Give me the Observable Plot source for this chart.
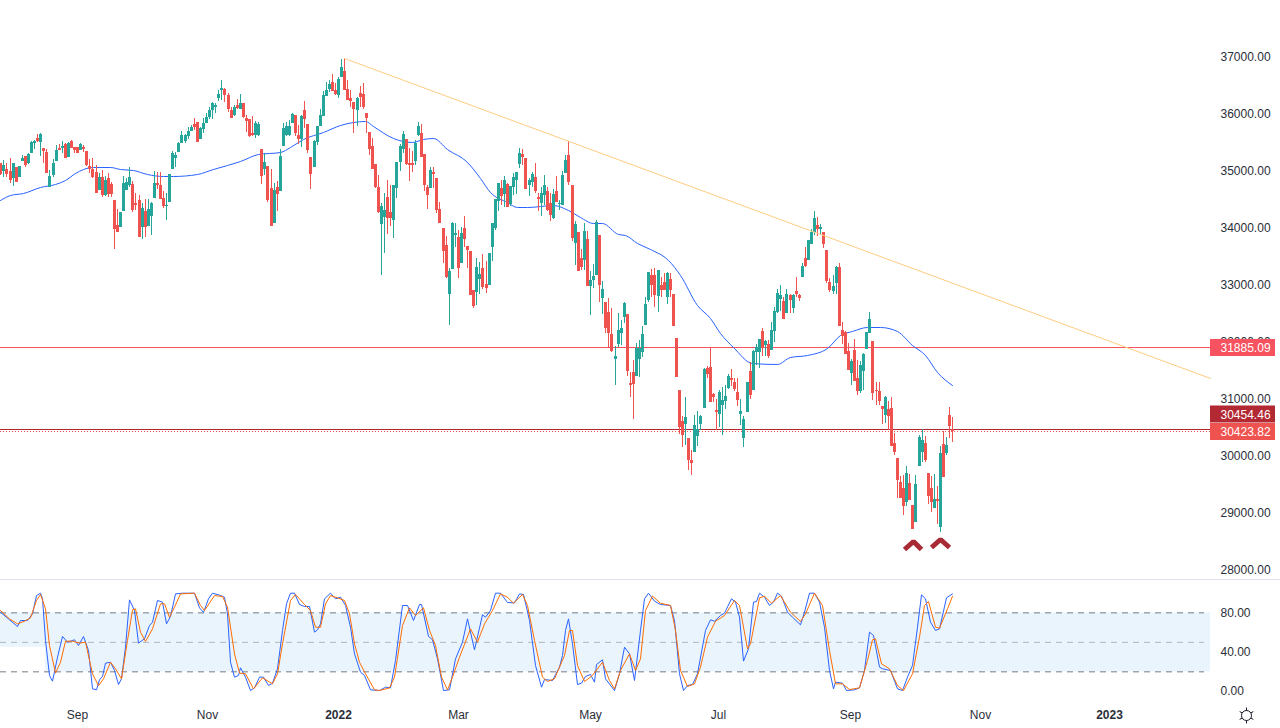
<!DOCTYPE html>
<html>
<head>
<meta charset="utf-8">
<script src="https://cdn.jsdelivr.net/npm/d3@7"></script>
<script src="https://cdn.jsdelivr.net/npm/@observablehq/plot@0.6"></script>
<style>
html,body{margin:0;padding:0;background:#fff;overflow:hidden}
#chart svg{display:block}
#sep{height:1px;background:#e0e3eb}
</style>
</head>
<body>
<div id="chart"></div>
<script>
// Candles: [open, high, low, close], one row per session
const barsA = [[35116,35128,34911,34929],[34987,35174,34882,35087],[35011,35116,34870,34929],[34981,35204,34765,34824],[34853,35116,34718,35116],[35046,35057,34783,34794],[34882,35069,34870,35063],[35157,35262,35157,35210],[35239,35245,35057,35087],[35116,35303,35104,35280],[35303,35514,35291,35490],[35473,35525,35373,35508],[35561,35631,35490,35502],[35490,35642,35245,35631],[35385,35385,35128,35332],[35315,35368,34946,34946],[34706,34999,34706,34894],[34911,35186,34870,35128],[35157,35438,35151,35350],[35385,35455,35350,35350],[35391,35508,35303,35420],[35455,35479,35215,35215],[35227,35485,35227,35473],[35508,35525,35379,35391],[35403,35408,35303,35344],[35397,35397,35303,35303],[35350,35479,35350,35455],[35403,35438,35321,35368],[35332,35332,35069,35081],[35069,35192,34940,35017],[35011,35204,34853,34870],[34964,35087,34590,34595],[34648,34940,34648,34876],[34876,34999,34531,34560],[34554,34894,34543,34824],[34859,34940,34531,34578],[34753,34794,34531,34578],[34472,34472,33613,33963],[34034,34309,33917,33917],[34004,34268,33993,34262],[34280,34894,34280,34765],[34648,34853,34648,34794],[34736,35057,34706,34876],[34753,34806,34268,34297],[34414,34590,34297,34385],[34472,34560,33823,33823],[34004,34414,33794,34332],[34280,34484,33823,34004],[34022,34490,34016,34315],[34192,34437,33858,34420],[34508,34981,34508,34765],[34765,34970,34660,34742],[34736,34964,34496,34496],[34502,34630,34338,34367],[34367,34590,34121,34385],[34437,34929,34437,34923],[35017,35332,35017,35291],[35210,35321,35057,35256],[35315,35496,35309,35473],[35473,35683,35467,35613],[35508,35631,35479,35613],[35596,35760,35537,35683],[35683,35789,35683,35748],[35806,35906,35701,35754],[35841,35847,35490,35496],[35543,35760,35537,35736],[35713,35906,35654,35818],[35824,35993,35818,35929],[35923,36099,35894,36052],[36052,36198,35894,36175],[36099,36181,36005,36134],[36257,36403,36216,36333],[36403,36578,36227,36438],[36421,36432,36198,36315],[36315,36345,36023,36064],[36052,36110,35906,35912],[35958,36140,35953,36105],[36140,36245,36064,36087]];
const barsB = [[36070,36333,36064,36169],[36169,36181,35917,35935],[35912,35964,35672,35865],[35894,35894,35572,35601],[35642,35947,35596,35613],[35613,35859,35566,35818],[35613,35847,35596,35806],[35368,35368,34753,34894],[35011,35291,34911,35140],[35069,35069,34443,34472],[34683,35017,34022,34022],[34075,34765,34075,34648],[34701,34806,34280,34584],[34636,35368,34636,35245],[35426,35818,35426,35730],[35613,35847,35601,35771],[35613,35876,35596,35771],[35824,36005,35818,35982],[35964,35964,35596,35642],[35613,35789,35455,35543],[35543,35964,35408,35947],[36052,36210,35730,35894],[35806,35806,35303,35350],[35227,35227,34666,34929],[35052,35525,35052,35508],[35490,35771,35438,35771],[35771,36064,35771,35964],[35947,36391,35947,36315],[36298,36537,36298,36403],[36415,36578,36374,36508],[36543,36684,36391,36391],[36403,36532,36315,36327],[36315,36625,36268,36596],[36625,36947,36625,36807],[36736,36965,36403,36403],[36415,36578,36227,36227],[36257,36403,36110,36216],[36192,36198,35654,36064],[36052,36274,35771,36257],[36350,36473,36110,36280],[36333,36532,36064,36099],[35993,35993,35654,35912],[35660,35660,35262,35368],[35414,35555,35017,35017],[35098,35104,34677,34695],[34701,34911,34238,34256],[34051,34414,33156,34367],[34180,34590,33548,34297],[34525,34823,33876,34163],[34262,34736,34016,34163],[34121,34736,33811,34736],[34683,35145,34514,35145],[35140,35455,34987,35420],[35368,35683,35291,35631],[35537,35537,35087,35104],[35122,35379,34806,35087],[35122,35332,34970,35093],[35157,35525,35087,35473],[35613,35835,35596,35771],[35642,35806,35221,35227],[35280,35280,34630,34736],[34701,34736,34315,34560],[34683,35046,34683,34999],[34964,35052,34683,34929],[34859,34859,34238,34297],[34315,34437,34063,34063],[33981,33981,33361,33578],[33683,33841,33098,33121],[32823,33273,32279,33226],[33262,34081,33262,34069],[33852,34063,33654,33893],[33829,33946,33104,33279],[33367,34004,33361,33893],[33981,34192,33654,33788],[33665,33665,33273,33595],[33578,33578,32805,32805],[32893,32893,32583,32612],[32858,33449,32630,33297],[33080,33390,32823,33174]];
const barsC = [[33280,33526,32917,32941],[33000,33403,32836,32929],[32982,33537,32982,33537],[33655,34076,33409,34076],[33988,34491,33947,34491],[34456,34778,34286,34778],[34678,34825,34386,34550],[34573,34895,34357,34825],[34748,34766,34357,34357],[34397,34719,34368,34719],[34708,34953,34561,34877],[34825,34971,34573,34965],[35105,35380,35041,35293],[35281,35363,35088,35234],[35211,35211,34667,34667],[34737,34866,34550,34825],[34795,34971,34708,34936],[34877,35117,34591,34631],[34520,34591,34280,34497],[34421,34708,34199,34591],[34561,34906,34386,34731],[34626,34708,34280,34298],[34421,34602,34111,34216],[34158,34667,34146,34579],[34631,34895,34438,34438],[34403,34474,34298,34421],[34386,34982,34386,34912],[34947,35263,34947,35176],[35263,35509,34737,34789],[34737,34737,33754,33807],[33725,34099,33333,34052],[33912,33912,33227,33227],[33456,33608,33245,33298],[33420,34064,33245,33929],[33789,33929,32964,32964],[32964,33227,32455,33070],[33070,33344,32923,33140],[33157,34123,33157,34087],[33859,33859,32689,32982],[32754,33052,32473,32912],[32683,32683,32134,32227],[32508,32754,31900,32139],[32122,32578,31812,31824],[31683,31911,31227,31736],[31946,32496,31888,32192],[32139,32368,31929,32227],[32420,32683,32309,32666],[32473,32473,31385,31472],[31262,31455,31016,31227],[31455,31665,30630,31244],[31385,31958,31385,31876],[31683,32017,31373,31876],[31806,32262,31724,32122],[32280,32777,32280,32648],[32719,33216,32683,33210],[33157,33257,32777,32982],[33157,33274,32590,32806],[32789,33245,32514,33245],[32982,33128,32777,32894],[33034,33187,32894,32894],[32771,33216,32648,33192],[33087,33187,32777,32894],[32824,32824,32262,32262],[32052,32052,31367,31367],[31139,31139,30367,30490],[30595,30683,30139,30349],[30542,31016,30174,30665],[30297,30297,29735,29911],[29911,30086,29647,29858],[30051,30700,30051,30525],[30332,30770,30156,30455],[30542,30700,30437,30683],[30823,31525,30823,31508],[31525,31560,31344,31420],[31543,31888,30928,30928],[31069,31080,30928,31016],[30788,30975,30437,30753],[30718,31139,30496,31104]];
const barsD = [[30876,31198,30350,30964],[30946,31227,30800,31034],[31169,31420,31151,31385],[31350,31514,31210,31315],[31280,31350,31128,31151],[31104,31344,30859,30964],[30718,30981,30519,30771],[30297,30683,30139,30630],[30753,31280,30753,31280],[31473,31637,30982,31052],[31140,31841,31140,31824],[31806,31947,31578,31888],[31806,32034,31531,32034],[32175,32228,31736,31877],[31929,32017,31736,31999],[31947,32017,31701,31736],[31841,32333,31841,32193],[32175,32602,31982,32526],[32508,32912,32497,32842],[32737,32982,32526,32807],[32701,32772,32380,32386],[32491,32912,32491,32824],[32807,32824,32491,32719],[32579,32824,32491,32807],[32877,33123,32772,32824],[32807,32824,32701,32754],[33123,33368,33123,33316],[33456,33649,33298,33316],[33421,33772,33421,33772],[33702,33965,33702,33912],[33912,34281,33860,34158],[34035,34176,33842,33965],[33965,34053,33860,34000],[33912,33912,33632,33702],[33597,33597,33023,33052],[33035,33105,32859,32894],[32877,33158,32824,32965],[33017,33316,32824,33298],[33298,33368,32263,32263],[32193,32333,31947,32087],[32157,32175,31771,31771],[31824,31964,31490,31490],[31438,31684,31227,31649],[31841,32035,31297,31297],[31350,31666,31052,31122],[31122,31649,31087,31578],[31473,31789,31140,31771],[31859,32157,31859,32157],[32140,32508,32140,32386],[32000,32000,30964,31087],[31140,31280,30876,31122],[31122,31280,30876,30946],[30859,30859,30543,30806],[30701,31034,30560,31017],[30806,30941,30437,30683],[30824,31017,30157,30157],[30209,30379,29999,30051],[29946,29946,29244,29560],[29525,29630,29244,29244],[29420,29648,28946,29104],[29174,29806,29104,29683],[29507,29665,29209,29209],[29121,29121,28700,28700],[28823,29648,28823,29490],[29806,30350,29806,30315],[30051,30449,29876,30262],[30209,30332,29876,29911],[29683,29683,29139,29279],[29420,29630,28998,29174],[29069,29665,29069,29226],[29226,29455,28788,29191],[28735,30157,28647,30034],[30192,30420,29613,29613],[30034,30315,29999,30174],[30701,30841,30297,30508],[30454,30666,30227,30423.82]];

// Moving average [session, price]
const movingAverage = [[0,34480],[3.2,34557],[7.4,34602],[12.9,34708],[17.8,34750],[21.1,34825],[24.3,34953],[26.9,35023],[30.2,35053],[35.7,35058],[39,35013],[43.2,35000],[47.8,34930],[53,34895],[56.2,34890],[64,34930],[69.3,35013],[73.8,35093],[78,35153],[83.9,35281],[91.1,35311],[94.3,35409],[98.6,35539],[105.1,35672],[110.6,35790],[114.8,35848],[118.8,35855],[121.4,35772],[127.9,35556],[134.1,35497],[137.6,35549],[140.9,35556],[145.5,35374],[152,35146],[156.2,34855],[159.5,34620],[165,34434],[168.2,34357],[171.5,34346],[180,34387],[184.9,34299],[188.8,34171],[193,34076],[195.9,34076],[201.1,33878],[203.4,33860],[207.3,33715],[211.6,33609],[217.4,33422],[221.3,33159],[226.9,32633],[231.1,32399],[234.3,32136],[238.6,31901],[244.8,31610],[252.9,31598],[257.1,31715],[262.7,31756],[269.2,31878],[273.4,32106],[277.3,32176],[282.2,32241],[286.5,32252],[292,32176],[296.9,31931],[301.1,31756],[305,31463],[309.9,31229]];

// Trend line and horizontal levels
const trendIdx = [112, 393.9];
const trendPrice = [36965, 31347];
const resistance = 31885.09;
const prevClose = 30454.46;
const lastClose = 30423.82;
const priceTicks = [28000,29000,30000,31000,32000,33000,34000,35000,36000,37000];

// Double-bottom markers [session, price]
const chevronA = [[294.3,28355],[297.1,28484],[299.9,28355]];
const chevronB = [[303.2,28388],[306,28519],[308.8,28388]];

// Stochastic %K [session, value]
const stochK1 = [[0,80.7],[2.7,72.9],[5.4,66.1],[6.3,72.2],[8.7,72.2],[10.3,79],[11.7,97.6],[12.8,100],[13.6,94.3],[14.7,51.9],[15.7,16.3],[16.9,10.5],[18.5,34.9],[20.1,56],[21.7,50.2],[23.9,52.6],[25.3,46.8],[26.9,56],[28.4,41.7],[29.8,2.7],[31.2,1.7],[32,11.9],[33.1,15.3],[34.2,28.8],[35.8,29.8],[36.9,21.4],[38.2,7.1],[39.3,12.9],[40.7,45.1],[42,93.2],[43.4,82.4],[44.8,49.2],[46.7,53.6],[48.3,67.1],[49.4,70.5],[51,92.6],[52.6,90.9],[54.1,68.8],[55.4,76.3],[57,99.3],[59.2,100],[63.2,100],[64.6,85.1],[66,80.4],[67.5,94.3],[68.9,100],[71.1,98],[72.7,95.9],[73.8,79],[74.9,29.8],[76,14.6],[77.3,16.3],[78.2,24.1],[79.8,14.6],[81.4,1],[82.5,3.7],[84.1,14.6],[85.7,14.6],[87.2,6.1],[88.5,8.5],[90.1,23.1],[91.7,62.1],[93.1,89.2],[94.4,100],[95.5,100],[97.1,88.5],[98.8,86.5],[100.4,86.5],[102,60.4],[103.1,62.7],[104.2,68.8]];
const stochK2 = [[105.5,94.3],[107.2,100],[109.1,94.3],[110.7,95.9],[112.3,87.5],[114,65.4],[115.1,38.3],[117.2,19.7],[118.3,16.3],[120.3,1.7],[123.2,1],[125.4,4.4],[127,3.7],[128.6,31.5],[130.8,87.5],[132.4,87.5],[134.3,72.2],[136.2,88.5],[137.1,88.5],[139.2,56],[140.6,52.6],[142.2,33.2],[144.1,1],[146,1.7],[148.2,33.2],[150.3,50.2],[152,73.9],[154.1,42.4],[156.8,78],[157.9,75.6],[159.6,82.4],[161.2,100],[162.8,100],[165,90.5],[167.2,90.2],[169,99.3],[170.1,98.7],[172,72.2],[174.2,26.5],[176.1,4.4],[177.1,12.2],[179.6,11.2],[181.8,24.8],[182.9,36.6],[184,62.1],[184.8,73.9],[186.1,48.5],[187.8,7.1],[189.1,8.5],[190.5,15.3],[192.1,17.3],[193.2,9.5],[194.1,27.5],[195.9,32.2],[197,12.9],[199.7,1],[201.3,18],[203.2,45.1],[204.6,38.3],[206.2,11.2],[208.4,62.1]];
const stochK3 = [[209.7,94.3],[211,100],[212.7,91.9],[214.9,88.5],[218.2,87.5],[219.3,72.2],[220.9,18],[222.2,1],[223.6,6.1],[225.2,7.1],[226.9,18],[229.6,62.1],[231.2,72.9],[232.5,71.5],[234.2,77.3],[235.5,79.7],[237.9,94.3],[239.3,90.9],[240.4,75.6],[241.8,30.9],[243.4,43.4],[245.1,90.9],[246.2,91.5],[247,100],[248.8,95.9],[250.2,87.5],[251.6,90.9],[252.9,100],[254.2,97],[256.2,80.7],[257.8,75.6],[260.3,67.8],[261.6,80.7],[263.2,100],[264.8,100],[266.5,90.9],[268.1,65.4],[269.7,21.4],[271,2.7],[271.9,9.5],[274.1,8.5],[275.4,1],[277.9,1.7],[279.5,3.7],[281.1,21.4],[283,60.4],[284.1,57],[286,24.8],[287.1,23.1],[289.8,21.4],[292,2.7],[293.6,1],[295.2,14.6],[296.9,26.5],[298.5,65.4],[299.8,98.3],[301.2,94.3],[302.8,70.5],[304.5,62.1],[305.5,63.7],[308,95.3],[309.9,99.3]];

// Stochastic %D [session, value]
const stochD1 = [[0,82.4],[2.7,73.9],[5.4,68.8],[7.6,71.5],[9.8,74.9],[11.7,92.6],[13,98.7],[14.7,84.1],[15.7,46.8],[17.7,18.7],[19.3,29.8],[21.2,51.2],[23.3,51.2],[25.5,49.2],[27.7,50.2],[29.8,18],[31.7,5.8],[33.4,12.9],[35.8,29.8],[37.4,23.1],[39.3,12.9],[41.2,51.9],[42.9,83.1],[44,84.1],[45.6,60.4],[47.2,50.9],[49.4,63.7],[51.9,89.2],[53.2,89.2],[54.8,75.6],[56.4,85.8],[58.6,99.3],[63.2,100],[65.1,87.5],[66.4,82.4],[69.5,97.6],[72.2,96.6],[73.8,85.8],[76,38.3],[77.6,18.7],[79.8,18],[82.3,2.7],[85.2,13.9],[88.5,7.8],[90.1,18],[91.7,48.5],[94.4,92.6],[96.1,98.7],[98.8,88.5],[100.9,82.4],[102.6,65.4],[104.2,65.4]];
const stochD2 = [[105.8,89.2],[107.5,97.6],[109.6,95.3],[111.8,92.6],[113.4,79],[115.1,48.5],[116.7,29.8],[118.9,18],[121.6,1.7],[123.2,1],[126.5,3.7],[128.1,14.6],[130.8,67.1],[133,85.1],[135.1,77.3],[137.6,85.1],[139.5,62.1],[141.6,46.8],[143.5,14.6],[145.4,1.7],[147.1,14.6],[149.2,34.9],[153,63.7],[155.2,50.2],[157.4,68.8],[160.1,82.4],[162.8,99.3],[165,95.9],[166.9,89.8],[169.9,98.7],[171.5,87.5],[173.7,51.9],[176.4,14.6],[178,10.2],[180.2,12.9],[183.4,36.6],[185.1,62.1],[186.1,62.1],[187.8,26.5],[190,10.2],[192.7,16.3],[195.9,29.8],[198.1,11.2],[199.7,2.7],[201.9,21.4],[204.6,38.3],[206.8,21.4],[208.4,33.2]];
const stochD3 = [[210,82.4],[212.2,97],[214.9,89.8],[218.2,87.5],[219.8,62.1],[221.4,21.4],[223.6,5.1],[225.8,7.8],[227.9,24.8],[230.1,55.3],[232.8,71.5],[235.5,77.3],[238.8,92.6],[240.4,87.5],[243.1,43.4],[244.2,48.5],[246.9,95.3],[248.8,97],[251,89.8],[254,97.6],[257.2,80.7],[260.5,71.2],[262.1,79],[264.8,100],[267.6,87.5],[269.7,41.7],[271.9,7.8],[274.1,7.8],[276.2,2],[279.5,3.7],[282.2,31.5],[283.8,52.6],[284.9,53.6],[286.8,28.2],[289.3,23.1],[292,6.1],[294.1,1],[296.9,18],[299,55.3],[300.7,87.5],[302,91.5],[304.5,65.4],[305.5,64.4],[308.3,84.1],[309.9,97]];

// Time axis
const monthTicks = [25,67.3,149,192,233.7,276.7,319];
const monthNames = ["Sep","Nov","Mar","May","Jul","Sep","Nov"];
const yearTicks = [110,361];
const yearNames = ["2022","2023"];
const oscTicks = [0,40,80];
const oscLevels = [80,50,20];

const GREEN = "#26a69a", RED = "#ef5350";
const bars = [...barsA,...barsB,...barsC,...barsD].map(([o,h,l,c],i)=>({i,o,h,l,c}));
const up = bars.filter(d=>d.c>=d.o), down = bars.filter(d=>d.c<d.o);
const stochK = [...stochK1,...stochK2,...stochK3];
const stochD = [...stochD1,...stochD2,...stochD3];

const xScale = {domain:[-0.1,416.7], range:[0,1280], round:true, axis:null};
const baseStyle = {fontFamily:"'Liberation Sans',Arial,sans-serif", fontSize:"12px", color:"#2a2e39", background:"#fff"};
const AXIS_END = 393.9, LABEL_START = 393.9, LABEL_END = 415, TEXT_X = 397.2;

const priceLabel = (v, fill, dy, boxDy) => [
  Plot.ruleY([v],{x1:LABEL_START,x2:LABEL_END,stroke:fill,strokeWidth:17,dy:boxDy}),
  Plot.text([v],{x:TEXT_X,y:d=>d,text:d=>d.toFixed(2),fill:"#fff",textAnchor:"start",dy,fontSize:12})
];

const main = Plot.plot({
  width:1280,height:579,marginLeft:0,marginRight:70,marginTop:0,marginBottom:0,
  style:baseStyle,
  x:xScale,
  y:{domain:[28000,37000],range:[569,56],round:true},
  marks:[
    Plot.axisY({anchor:"right",ticks:priceTicks,tickSize:0,tickPadding:10,label:null,dy:1,tickFormat:d=>d.toFixed(2)}),
    Plot.ruleY([resistance],{x1:0,x2:AXIS_END,stroke:"#f7525f",strokeWidth:1,dy:-1}),
    Plot.ruleY([prevClose],{x1:0,x2:AXIS_END,stroke:"#b22833",strokeWidth:1}),
    Plot.ruleY([lastClose],{x1:0,x2:AXIS_END,stroke:RED,strokeWidth:1,strokeDasharray:"1,2"}),
    Plot.line(movingAverage,{x:d=>d[0],y:d=>d[1],stroke:"#2962ff",strokeWidth:1,curve:"monotone-x"}),
    Plot.ruleX(up,{x:"i",y1:"l",y2:"h",stroke:GREEN,strokeWidth:1}),
    Plot.ruleX(down,{x:"i",y1:"l",y2:"h",stroke:RED,strokeWidth:1}),
    Plot.ruleX(up,{x:"i",y1:"o",y2:"c",stroke:GREEN,strokeWidth:3}),
    Plot.ruleX(down,{x:"i",y1:"o",y2:"c",stroke:RED,strokeWidth:3}),
    Plot.line(trendIdx.map((x,k)=>[x,trendPrice[k]]),{x:d=>d[0],y:d=>d[1],stroke:"#ffcc80",strokeWidth:1}),
    Plot.line(chevronA,{x:d=>d[0],y:d=>d[1],stroke:"#a82a35",strokeWidth:5,strokeLinejoin:"miter",strokeLinecap:"butt"}),
    Plot.line(chevronB,{x:d=>d[0],y:d=>d[1],stroke:"#a82a35",strokeWidth:5,strokeLinejoin:"miter",strokeLinecap:"butt"}),
    ...priceLabel(resistance,"#f7525f",0,-1),
    ...priceLabel(prevClose,"#b22833",-14.5,-15.5),
    ...priceLabel(lastClose,RED,1,0)
  ]
});

const bands = [
  {x1:0,x2:14.7,y1:45,y2:80},
  {x1:14.7,x2:AXIS_END,y1:20,y2:80}
];
const oscMonthLabel = d=>monthNames[monthTicks.indexOf(d)];
const oscYearLabel = d=>yearNames[yearTicks.indexOf(d)];

const osc = Plot.plot({
  width:1280,height:148,marginLeft:0,marginRight:70,marginTop:0,marginBottom:20,
  style:baseStyle,
  x:xScale,
  y:{domain:[0,100],range:[111,12.7]},
  marks:[
    Plot.rect(bands,{x1:"x1",x2:"x2",y1:"y1",y2:"y2",fill:"#e9f4fd"}),
    Plot.ruleY([oscLevels[0],oscLevels[2]],{x1:0,x2:392,stroke:"#787b86",strokeWidth:1,strokeDasharray:"6,5"}),
    Plot.ruleY([oscLevels[1]],{x1:0,x2:392,stroke:"#b2b5be",strokeWidth:1,strokeDasharray:"6,5"}),
    Plot.line(stochK,{x:d=>d[0],y:d=>d[1],stroke:"#2962ff",strokeWidth:1}),
    Plot.line(stochD,{x:d=>d[0],y:d=>d[1],stroke:"#ff6d00",strokeWidth:1}),
    Plot.axisY({anchor:"right",ticks:oscTicks,tickSize:0,tickPadding:10,label:null,tickFormat:d=>d.toFixed(2)}),
    Plot.axisX({anchor:"bottom",ticks:monthTicks,tickSize:0,tickPadding:2,label:null,tickFormat:oscMonthLabel}),
    Plot.axisX({anchor:"bottom",ticks:yearTicks,tickSize:0,tickPadding:2,label:null,tickFormat:oscYearLabel,fontWeight:"bold"}),
    Plot.dot([[405.6,-24.4]],{x:d=>d[0],y:d=>d[1],symbol:"asterisk",r:7.5,stroke:"#131722",strokeWidth:1}),
    Plot.dot([[405.6,-24.4]],{x:d=>d[0],y:d=>d[1],r:5,fill:"#fff",stroke:"#131722",strokeWidth:1})
  ]
});

const root = document.getElementById("chart");
root.appendChild(main);
const sep = document.createElement("div"); sep.id="sep"; root.appendChild(sep);
root.appendChild(osc);
</script>
</body>
</html>
